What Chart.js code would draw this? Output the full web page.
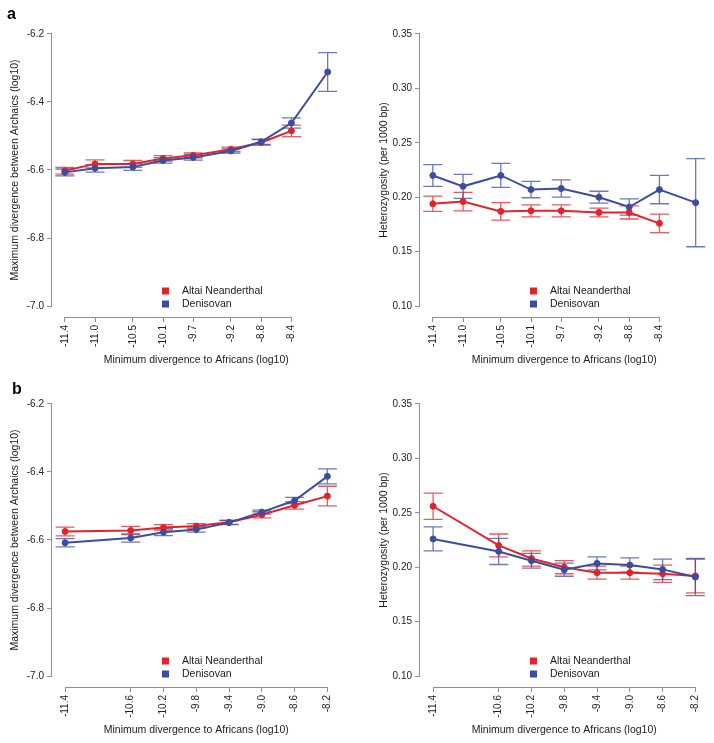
<!DOCTYPE html>
<html>
<head>
<meta charset="utf-8">
<script src="https://cdn.jsdelivr.net/npm/chart.js@4.4.0/dist/chart.umd.min.js"></script>
<style>
  body { margin: 0; background: #fff; width: 714px; height: 743px; position: relative; overflow: hidden; }
  .p { position: absolute; }
</style>
</head>
<body>
<div class="p" style="left:0;top:0"><canvas id="aL" width="357" height="370"></canvas></div>
<div class="p" style="left:357px;top:0"><canvas id="aR" width="357" height="370"></canvas></div>
<div class="p" style="left:0;top:370px"><canvas id="bL" width="357" height="373"></canvas></div>
<div class="p" style="left:357px;top:370px"><canvas id="bR" width="357" height="373"></canvas></div>
<script>
// x positions (log10 of minimum divergence to Africans)
const xTicksA = [-11.4, -11.0, -10.5, -10.1, -9.7, -9.2, -8.8, -8.4];
const xDeniA = [-11.4, -11.0, -10.5, -10.1, -9.7, -9.2, -8.8, -8.4, -7.92];
const xTicksB = [-11.4, -10.6, -10.2, -9.8, -9.4, -9.0, -8.6, -8.2];
const divTicks = [-7.0, -6.8, -6.6, -6.4, -6.2];
const hetTicks = [0.10, 0.15, 0.20, 0.25, 0.30, 0.35];

// panel a, divergence between archaics
const aDivAltai = [-6.602, -6.582, -6.582, -6.566, -6.557, -6.539, -6.519, -6.485];
const aDivAltaiErr = [0.010, 0.012, 0.010, 0.008, 0.007, 0.006, 0.008, 0.017];
const aDivDeni = [-6.607, -6.595, -6.591, -6.572, -6.563, -6.544, -6.517, -6.462, -6.312];
const aDivDeniErr = [0.010, 0.011, 0.010, 0.008, 0.008, 0.006, 0.008, 0.015, 0.057];

// panel a, heterozygosity
const aHetAltai = [0.194, 0.196, 0.187, 0.1875, 0.1875, 0.186, 0.186, 0.176];
const aHetAltaiErr = [0.007, 0.0085, 0.008, 0.0055, 0.0055, 0.004, 0.006, 0.0085];
const aHetDeni = [0.220, 0.210, 0.220, 0.207, 0.208, 0.200, 0.191, 0.207, 0.195];
const aHetDeniErr = [0.010, 0.011, 0.011, 0.0075, 0.008, 0.0055, 0.0075, 0.013, 0.0405];

// panel b, divergence between archaics
const bDivAltai = [-6.575, -6.572, -6.563, -6.559, -6.548, -6.526, -6.498, -6.471];
const bDivAltaiErr = [0.013, 0.012, 0.008, 0.007, 0.006, 0.009, 0.011, 0.029];
const bDivDeni = [-6.608, -6.594, -6.577, -6.569, -6.549, -6.518, -6.484, -6.413];
const bDivDeniErr = [0.012, 0.012, 0.010, 0.008, 0.006, 0.006, 0.009, 0.022];

// panel b, heterozygosity
const bHetAltai = [0.256, 0.220, 0.208, 0.200, 0.195, 0.195, 0.194, 0.192];
const bHetAltaiErr = [0.012, 0.0105, 0.007, 0.006, 0.006, 0.006, 0.008, 0.0155];
const bHetDeni = [0.226, 0.2145, 0.206, 0.1977, 0.2035, 0.202, 0.198, 0.191];
const bHetDeniErr = [0.011, 0.012, 0.0068, 0.006, 0.006, 0.0065, 0.0094, 0.017];

const RED = '#e3222a';
const BLUE = '#3b4da0';
const AXIS = '#8f8f8f';
const FONT = '"Liberation Sans", Arial, Helvetica, sans-serif';

function pts(xs, ys) {
  return ys.map((v, i) => ({x: xs[i], y: v}));
}

function hexA(hex, a) {
  let r = parseInt(hex.substr(1, 2), 16), g = parseInt(hex.substr(3, 2), 16), b = parseInt(hex.substr(5, 2), 16);
  return 'rgba(' + r + ',' + g + ',' + b + ',' + a + ')';
}

// R-like look: axis lines only between ticks, error bars, legend in plot, panel letter
const rStyle = {
  id: 'rStyle',
  beforeDatasetsDraw(chart) {
    const {ctx, scales: {x, y}} = chart;
    ctx.save();
    chart.data.datasets.forEach(ds => {
      ctx.strokeStyle = hexA(ds.borderColor, 0.75);
      ctx.lineWidth = 1.3;
      ds.data.forEach((p, i) => {
        const e = ds.err[i];
        const px = x.getPixelForValue(p.x);
        const top = y.getPixelForValue(p.y + e);
        const bot = y.getPixelForValue(p.y - e);
        ctx.beginPath();
        ctx.moveTo(px, top); ctx.lineTo(px, bot);
        ctx.moveTo(px - 9.5, top); ctx.lineTo(px + 9.5, top);
        ctx.moveTo(px - 9.5, bot); ctx.lineTo(px + 9.5, bot);
        ctx.stroke();
      });
    });
    ctx.restore();
  },
  afterDraw(chart, args, opts) {
    const {ctx, chartArea: ca, scales: {x, y}} = chart;
    ctx.save();
    ctx.strokeStyle = AXIS;
    ctx.lineWidth = 1;
    const xt = x.ticks, yt = y.ticks;
    const by = Math.round(ca.bottom) + 0.5;
    const lx = Math.round(ca.left) - 0.5;
    ctx.beginPath();
    ctx.moveTo(x.getPixelForValue(xt[0].value), by);
    ctx.lineTo(x.getPixelForValue(xt[xt.length - 1].value), by);
    ctx.moveTo(lx, y.getPixelForValue(yt[0].value));
    ctx.lineTo(lx, y.getPixelForValue(yt[yt.length - 1].value));
    ctx.stroke();

    // legend
    ctx.font = '10.5px ' + FONT;
    ctx.textBaseline = 'middle';
    ctx.textAlign = 'left';
    chart.data.datasets.forEach((ds, i) => {
      const ry = ca.bottom - 26 + i * 13;
      ctx.fillStyle = ds.borderColor;
      ctx.fillRect(ca.left + 110, ry - 3.5, 7, 7);
      ctx.fillStyle = '#1a1a1a';
      ctx.fillText(ds.label, ca.left + 130, ry);
    });

    if (opts.letter) {
      ctx.font = 'bold 16px ' + FONT;
      ctx.fillStyle = '#000';
      ctx.textBaseline = 'alphabetic';
      ctx.fillText(opts.letter, opts.lx, opts.ly);
    }
    ctx.restore();
  }
};

function panel(id, cfg) {
  const canvas = document.getElementById(id);
  const W = canvas.width, H = canvas.height;
  const left = cfg.left, right = left + 288.5;
  return new Chart(canvas, {
    type: 'line',
    data: {
      datasets: [
        {label: 'Altai Neanderthal', data: pts(cfg.xs1, cfg.y1), err: cfg.e1, order: 1,
         borderColor: RED, backgroundColor: RED, pointBackgroundColor: RED, pointBorderColor: RED,
         borderWidth: 2, pointRadius: 3, pointBorderWidth: 1, tension: 0},
        {label: 'Denisovan', data: pts(cfg.xs2, cfg.y2), err: cfg.e2, order: 0,
         borderColor: BLUE, backgroundColor: BLUE, pointBackgroundColor: BLUE, pointBorderColor: BLUE,
         borderWidth: 2, pointRadius: 3, pointBorderWidth: 1, tension: 0}
      ]
    },
    options: {
      responsive: false,
      animation: false,
      layout: {padding: {left: 0, top: 23, right: W - right, bottom: 0}},
      plugins: {
        legend: {display: false},
        tooltip: {enabled: false},
        rStyle: {letter: cfg.letter, lx: cfg.lx, ly: cfg.ly}
      },
      scales: {
        x: {
          type: 'linear', min: cfg.xMin, max: cfg.xMax,
          afterFit(s) { s.height = H - 317; },
          afterBuildTicks(s) { s.ticks = cfg.xt.map(v => ({value: v})); },
          ticks: {minRotation: 90, maxRotation: 90, autoSkip: false, padding: 3, color: '#222',
                  font: {family: FONT, size: 10}, callback: v => v.toFixed(1)},
          grid: {display: true, drawOnChartArea: false, drawTicks: true, tickLength: 5, color: AXIS},
          border: {display: false},
          title: {display: true, text: 'Minimum divergence to Africans (log10)', color: '#1a1a1a',
                  font: {family: FONT, size: 10.5}, padding: {top: 0, bottom: cfg.xTitlePad}}
        },
        y: {
          type: 'linear', min: cfg.yMin, max: cfg.yMax,
          afterFit(s) { s.width = left; },
          afterBuildTicks(s) { s.ticks = cfg.yt.map(v => ({value: v})); },
          ticks: {padding: 3, color: '#222', font: {family: FONT, size: 10},
                  callback: v => v.toFixed(cfg.yDec)},
          grid: {display: true, drawOnChartArea: false, drawTicks: true, tickLength: 5, color: AXIS},
          border: {display: false},
          title: {display: true, text: cfg.yTitle, color: '#1a1a1a',
                  font: {family: FONT, size: 10.5}, padding: {top: cfg.yTitlePad, bottom: 0}}
        }
      }
    },
    plugins: [rStyle]
  });
}

const divTitle = 'Maximum divergence between Archaics (log10)';
const hetTitle = 'Heterozygosity (per 1000 bp)';

panel('aL', {left: 52, xMin: -11.57, xMax: -7.75, xt: xTicksA, yt: divTicks, yMin: -7.032, yMax: -6.168, yDec: 1,
  xs1: xTicksA, y1: aDivAltai, e1: aDivAltaiErr, xs2: xDeniA, y2: aDivDeni, e2: aDivDeniErr,
  yTitle: divTitle, yTitlePad: 9, xTitlePad: 3.7, letter: 'a', lx: 7, ly: 19});
panel('aR', {left: 63, xMin: -11.57, xMax: -7.75, xt: xTicksA, yt: hetTicks, yMin: 0.09, yMax: 0.36, yDec: 2,
  xs1: xTicksA, y1: aHetAltai, e1: aHetAltaiErr, xs2: xDeniA, y2: aHetDeni, e2: aHetDeniErr,
  yTitle: hetTitle, yTitlePad: 21, xTitlePad: 3.7});
panel('bL', {left: 52, xMin: -11.56, xMax: -8.04, xt: xTicksB, yt: divTicks, yMin: -7.032, yMax: -6.168, yDec: 1,
  xs1: xTicksB, y1: bDivAltai, e1: bDivAltaiErr, xs2: xTicksB, y2: bDivDeni, e2: bDivDeniErr,
  yTitle: divTitle, yTitlePad: 9, xTitlePad: 6.7, letter: 'b', lx: 12, ly: 24});
panel('bR', {left: 63, xMin: -11.56, xMax: -8.04, xt: xTicksB, yt: hetTicks, yMin: 0.09, yMax: 0.36, yDec: 2,
  xs1: xTicksB, y1: bHetAltai, e1: bHetAltaiErr, xs2: xTicksB, y2: bHetDeni, e2: bHetDeniErr,
  yTitle: hetTitle, yTitlePad: 21, xTitlePad: 6.7});
</script>
</body>
</html>
